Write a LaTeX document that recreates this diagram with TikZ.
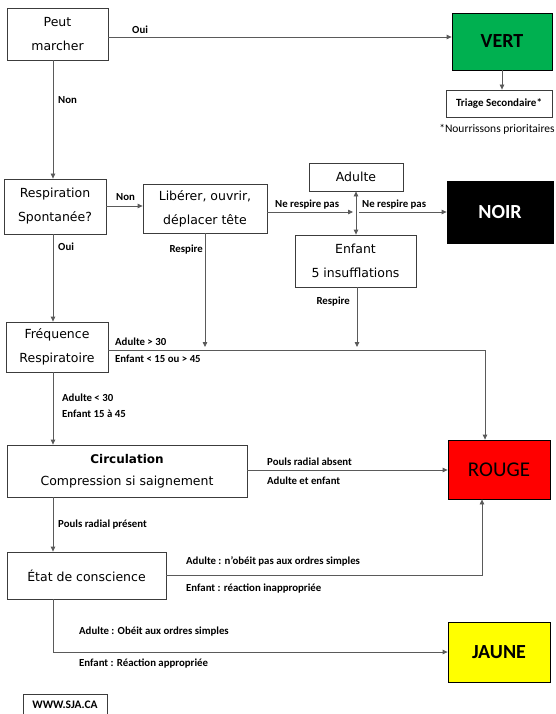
\documentclass[tikz,border=0pt]{standalone}
\usepackage{fontspec}
\setmainfont{DejaVu Sans}
\newfontfamily\labfont{Carlito}
\usetikzlibrary{arrows.meta}
\definecolor{lineC}{HTML}{5A5A5A}
\definecolor{boxC}{HTML}{3C3C3C}
\definecolor{vertC}{HTML}{00B050}
\definecolor{rougeC}{HTML}{FF0000}
\definecolor{jauneC}{HTML}{FFFF00}
\begin{document}
\begin{tikzpicture}[x=1pt,y=-1pt,
  box/.style={draw=boxC, line width=0.8pt, fill=white, inner sep=0pt, align=center,
    font=\fontsize{12.5}{24}\selectfont},
  lbl/.style={font=\labfont\bfseries\fontsize{10.8}{12}\selectfont, inner sep=0pt, anchor=base west},
  lble/.style={lbl, anchor=base east},
  conn/.style={draw=lineC, line width=0.8pt},
  arr/.style={conn, -{Triangle[length=5pt,width=4.5pt]}},
  tag/.style={draw=black, line width=0.8pt, inner sep=0pt,
    font=\labfont\bfseries\fontsize{20}{24}\selectfont}]
\fill[white] (0,0) rectangle (556,714);
\useasboundingbox (0,0) rectangle (556,714);

% helper coordinates
\coordinate (c37) at (0,37);
\coordinate (c53) at (53,0);
\coordinate (c206) at (0,206);
\coordinate (dbl) at (356,212);
\coordinate (c348) at (0,347);
\coordinate (c350) at (0,350);
\coordinate (c357) at (357,0);
\coordinate (c485) at (485,0);
\coordinate (c470) at (0,470);
\coordinate (c575) at (0,575);
\coordinate (c482) at (482,0);
\coordinate (c652) at (0,652);

% boxes
\node[box, minimum width=101pt, minimum height=52pt] (pm) at (57.5,34) {Peut\\marcher};
\node[tag, fill=vertC, minimum width=100pt, minimum height=57pt] (vert) at (502,41.5) {VERT};
\node[draw=boxC, line width=0.8pt, inner sep=0pt, minimum width=106pt, minimum height=27pt,
  font=\labfont\bfseries\fontsize{11}{12}\selectfont] (tri) at (499,103.5) {Triage Secondaire*};
\node[inner sep=0pt, font=\labfont\fontsize{11.5}{12}\selectfont] (nour) at (497,129) {*Nourrissons prioritaires};

\node[box, minimum width=102pt, minimum height=55pt] (resp) at (55,206.5) {Respiration\\Spontanée?};
\node[box, minimum width=124pt, minimum height=49pt] (lib) at (205,208.5) {Libérer, ouvrir,\\déplacer tête};
\node[box, minimum width=94pt, minimum height=28pt] (ad) at (356,177) {Adulte};
\node[box, minimum width=121pt, minimum height=52pt] (en) at (355.5,261) {Enfant\\5 insufflations};
\node[tag, fill=black, text=white, minimum width=106pt, minimum height=62pt] (noir) at (500,212) {NOIR};

\node[box, minimum width=102pt, minimum height=50pt] (freq) at (57,347) {Fréquence\\Respiratoire};
\node[box, minimum width=240pt, minimum height=52pt, font=\fontsize{12.5}{22}\selectfont] (circ) at (127,471)
  {{\bfseries\fontsize{12}{22}\selectfont Circulation}\\Compression si saignement};
\node[tag, fill=rougeC, minimum width=102pt, minimum height=59pt,
  font=\labfont\fontsize{21}{24}\selectfont] (rouge) at (499,469.5) {ROUGE};
\node[box, minimum width=159pt, minimum height=47pt] (etat) at (86.5,575.5) {État de conscience};
\node[tag, fill=jauneC, minimum width=102pt, minimum height=60pt] (jaune) at (499,652) {JAUNE};

\node[inner sep=0pt, font=\labfont\bfseries\fontsize{11.5}{12}\selectfont] (www) at (65,705) {WWW.SJA.CA};
\draw[draw=boxC, line width=0.8pt] (23,716) -- (23,694) -- (107,694) -- (107,716);

% connectors
\draw[arr] (pm.east |- c37) -- (vert.west |- c37);
\node[lbl] (l1) at (132,33.5) {Oui};
\draw[arr] (vert.south) -- (vert.south |- tri.north);

\draw[arr] (pm.south -| c53) -- (resp.north -| c53);
\node[lbl] (l2) at (58,104) {Non};

\draw[arr] (resp.east |- c206) -- (lib.west |- c206);
\node[lbl] (l3) at (116,200.5) {Non};

\draw[arr] (lib.east |- dbl) -- ([xshift=-3pt]dbl);
\node[lbl] (l4) at (275,207.5) {Ne respire pas};
\draw[arr] ([xshift=3pt]dbl) -- (noir.west |- dbl);
\node[lbl] (l5) at (362,207.5) {Ne respire pas};
\draw[conn, {Triangle[length=5pt,width=4.5pt]}-{Triangle[length=5pt,width=4.5pt]}] (ad.south -| dbl) -- (en.north -| dbl);

\draw[arr] (lib.south) -- (lib.south |- c348);
\node[lble] (l6) at (203,252.5) {Respire};
\draw[arr] (en.south -| c357) -- (c357 |- c348);
\node[lble] (l7) at (350,304) {Respire};

\draw[arr] (resp.south -| c53) -- (freq.north -| c53);
\node[lbl] (l8) at (58,250.5) {Oui};

\draw[arr] (freq.east |- c350) -| (rouge.north -| c485);
\node[lbl] (l9) at (115,345.5) {Adulte > 30};
\node[lbl] (l10) at (115,362.5) {Enfant < 15 ou > 45};

\draw[arr] (freq.south -| c53) -- (circ.north -| c53);
\node[lbl] (l11) at (62,401.5) {Adulte < 30};
\node[lbl] (l12) at (62,417.5) {Enfant 15 à 45};

\draw[arr] (circ.east |- c470) -- (rouge.west |- c470);
\node[lbl] (l13) at (267,465.5) {Pouls radial absent};
\node[lbl] (l14) at (267,484.5) {Adulte et enfant};

\draw[arr] (circ.south -| c53) -- (etat.north -| c53);
\node[lbl] (l15) at (58,527.5) {Pouls radial présent};

\draw[arr] (etat.east |- c575) -| (rouge.south -| c482);
\node[lbl] (l16) at (186,564.5) {Adulte : n’obéit pas aux ordres simples};
\node[lbl] (l17) at (186,591.5) {Enfant : réaction inappropriée};

\draw[arr] (etat.south -| c53) |- (jaune.west |- c652);
\node[lbl] (l18) at (79,634.5) {Adulte : Obéit aux ordres simples};
\node[lbl] (l19) at (79,666.5) {Enfant : Réaction appropriée};
\end{tikzpicture}
\end{document}
